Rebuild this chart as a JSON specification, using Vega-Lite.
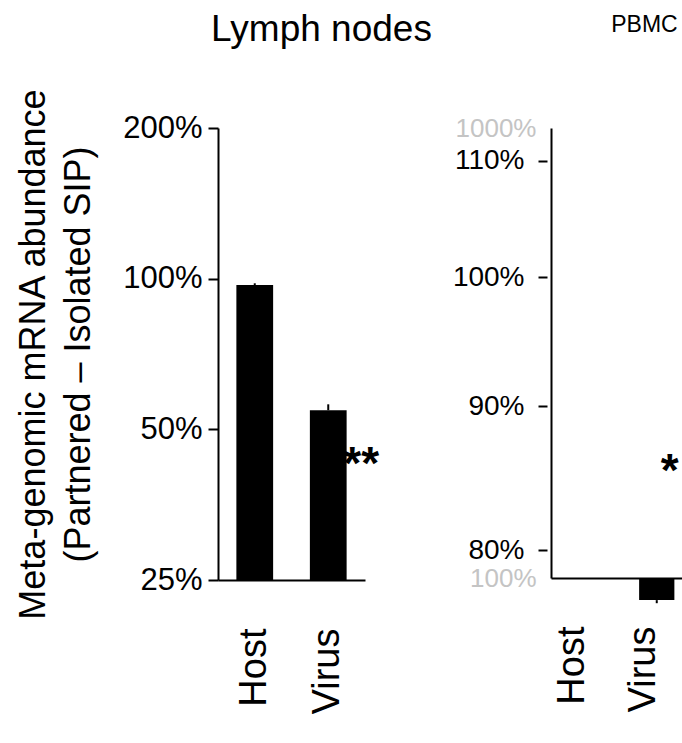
{
  "$schema": "https://vega.github.io/schema/vega-lite/v6.json",
  "padding": {"left": 15, "top": 10, "right": 0, "bottom": 0},
  "spacing": 20,
  "config": {
    "font": "Liberation Sans",
    "view": {"stroke": null},
    "axis": {
      "domainColor": "black", "domainWidth": 2, "tickColor": "black", "tickWidth": 2,
      "labelColor": "black", "grid": false, "labelFont": "Liberation Sans", "labelOverlap": false,
      "titleColor": "black", "titleFontWeight": "normal"
    },
    "title": {"fontWeight": "normal", "color": "black", "anchor": "middle"}
  },
  "hconcat": [
    {
      "title": {"text": "Lymph nodes", "fontSize": 37, "dx": 30, "offset": 39},
      "width": 147,
      "height": 452,
      "data": {"values": [
        {"group": "Host", "value": 97.1, "err": 97.9},
        {"group": "Virus", "value": 54.6, "err": 56.1}
      ]},
      "encoding": {
        "x": {
          "field": "group", "type": "nominal", "sort": ["Host", "Virus"],
          "scale": {"paddingInner": 0.5, "paddingOuter": 0.25},
          "axis": {"title": null, "labelAngle": -90, "labelFontSize": 38, "labelPadding": 48, "ticks": false}
        }
      },
      "layer": [
        {
          "mark": {"type": "bar", "color": "black"},
          "encoding": {
            "y": {
              "field": "value", "type": "quantitative",
              "scale": {"type": "log", "domain": [25, 200], "nice": false},
              "axis": {
                "values": [25, 50, 100, 200], "labelExpr": "datum.value + '%'",
                "tickSize": 10, "labelPadding": 6, "labelFontSize": 31,
                "title": ["Meta-genomic mRNA abundance", "(Partnered – Isolated SIP)"],
                "titleFontSize": 36, "titlePadding": 25, "titleLineHeight": 45
              }
            },
            "y2": {"datum": 25}
          }
        },
        {
          "mark": {"type": "rule", "strokeWidth": 2, "color": "black"},
          "encoding": {
            "y": {"field": "value", "type": "quantitative"},
            "y2": {"field": "err"}
          }
        },
        {
          "data": {"values": [{"group": "Virus", "sig": "**", "pos": 43}]},
          "mark": {"type": "text", "fontSize": 46, "fontWeight": "bold", "dx": 33, "dy": 3, "baseline": "middle", "color": "black"},
          "encoding": {
            "y": {"field": "pos", "type": "quantitative"},
            "text": {"field": "sig"}
          }
        }
      ]
    },
    {
      "title": {"text": "PBMC", "fontSize": 23, "dx": 23, "offset": 78},
      "width": 141,
      "height": 450,
      "data": {"values": [
        {"group": "Host", "value": 100, "err": 100},
        {"group": "Virus", "value": 89.3, "err": 87.9}
      ]},
      "encoding": {
        "x": {
          "field": "group", "type": "nominal", "sort": ["Host", "Virus"],
          "scale": {"paddingInner": 0.5, "paddingOuter": 0.25},
          "axis": {"title": null, "labelAngle": -90, "labelFontSize": 38, "labelPadding": 48, "labelOffset": -13, "ticks": false}
        }
      },
      "layer": [
        {
          "mark": {"type": "bar", "color": "black"},
          "encoding": {
            "y": {
              "field": "value", "type": "quantitative",
              "scale": {"type": "log", "domain": [100, 1000], "nice": false},
              "axis": {
                "orient": "left", "values": [100, 1000], "labelExpr": "datum.value + '%'",
                "ticks": false, "labelPadding": 15, "labelFontSize": 26, "labelColor": "#c4c4c4", "title": null
              }
            },
            "y2": {"datum": 100}
          }
        },
        {
          "mark": {"type": "rule", "strokeWidth": 2, "color": "black"},
          "encoding": {
            "y": {"field": "value", "type": "quantitative", "scale": {"type": "log", "domain": [100, 1000], "nice": false}, "axis": null},
            "y2": {"field": "err"}
          }
        },
        {
          "data": {"values": [{"group": "Virus", "sig": "*", "pos": 179}]},
          "mark": {"type": "text", "fontSize": 46, "fontWeight": "bold", "dx": 13, "dy": 8, "baseline": "middle", "color": "black"},
          "encoding": {
            "y": {"field": "pos", "type": "quantitative", "scale": {"type": "log", "domain": [100, 1000], "nice": false}, "axis": null},
            "text": {"field": "sig"}
          }
        },
        {
          "mark": {"type": "point", "opacity": 0},
          "encoding": {
            "y": {
              "field": "value", "type": "quantitative",
              "scale": {"type": "log", "domain": [78.2, 113], "nice": false},
              "axis": {
                "orient": "left", "values": [80, 90, 100, 110], "labelExpr": "datum.value + '%'",
                "offset": 4, "domain": false, "tickSize": 9, "labelPadding": 14, "labelFontSize": 28, "title": null
              }
            }
          }
        }
      ],
      "resolve": {"scale": {"y": "independent"}}
    }
  ]
}
